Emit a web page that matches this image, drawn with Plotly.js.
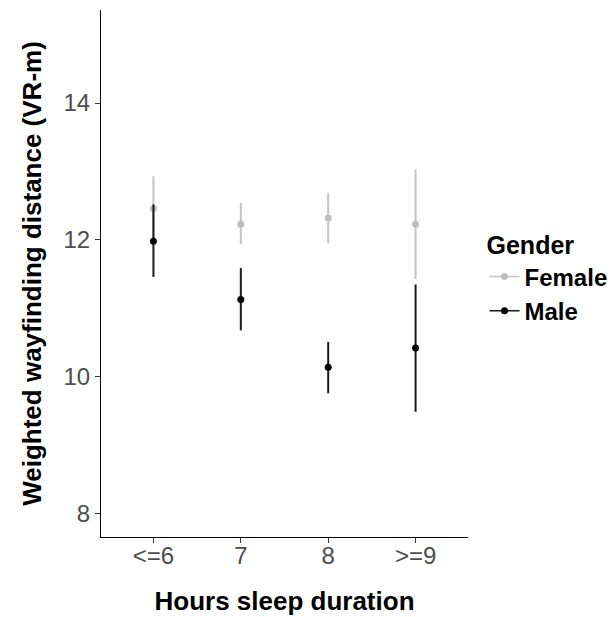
<!DOCTYPE html>
<html>
<head>
<meta charset="utf-8">
<script src="https://cdn.plot.ly/plotly-3.0.1.min.js"></script>
<style>html,body{margin:0;padding:0;background:#fff;}#chart{width:616px;height:617px;}</style>
</head>
<body>
<div id="chart"></div>
<script>
var categories = ["<=6", "7", "8", ">=9"];
var femaleMean = [12.46, 12.23, 12.32, 12.23];
var femaleLow  = [11.99, 11.94, 11.95, 11.43];
var femaleHigh = [12.93, 12.54, 12.69, 13.03];
var maleMean   = [11.98, 11.13, 10.14, 10.42];
var maleLow    = [11.46, 10.68, 9.76, 9.49];
var maleHigh   = [12.52, 11.59, 10.51, 11.35];
var yTicks = [8, 10, 12, 14];

function plus(h, m) { return h.map(function (v, i) { return v - m[i]; }); }
function minus(l, m) { return m.map(function (v, i) { return v - l[i]; }); }

var font = "Liberation Sans, Arial, Helvetica, sans-serif";
var femaleColor = "#bebebe", maleColor = "#000000";

var traces = [
  {
    name: "Female", type: "scatter", mode: "markers", showlegend: false,
    x: categories, y: femaleMean,
    marker: {color: femaleColor, size: 7},
    error_y: {type: "data", symmetric: false, array: plus(femaleHigh, femaleMean),
              arrayminus: minus(femaleLow, femaleMean), color: "#c4c4c4", thickness: 2, width: 0}
  },
  {
    name: "Male", type: "scatter", mode: "markers", showlegend: false,
    x: categories, y: maleMean,
    marker: {color: maleColor, size: 7},
    error_y: {type: "data", symmetric: false, array: plus(maleHigh, maleMean),
              arrayminus: minus(maleLow, maleMean), color: "#1a1a1a", thickness: 2, width: 0}
  },
  {
    name: "<b>Female</b>", type: "scatter", mode: "lines+markers",
    x: [null], y: [null], marker: {color: femaleColor, size: 7},
    line: {color: "#c4c4c4", width: 1.5}
  },
  {
    name: "<b>Male</b>", type: "scatter", mode: "lines+markers",
    x: [null], y: [null], marker: {color: maleColor, size: 7},
    line: {color: "#1a1a1a", width: 1.5}
  }
];

var layout = {
  width: 616, height: 617,
  margin: {l: 101, r: 148, t: 10, b: 80, autoexpand: false},
  paper_bgcolor: "#ffffff", plot_bgcolor: "#ffffff",
  font: {family: font, color: "#000"},
  showlegend: true,
  legend: {
    x: 1.045, y: 0.598, xanchor: "left", yanchor: "top",
    title: {text: "<b>Gender</b>", font: {size: 25, color: "#000"}},
    font: {size: 24, color: "#000"},
    tracegroupgap: 0, itemwidth: 30
  },
  xaxis: {
    type: "category", categoryarray: categories, range: [-0.6, 3.6],
    showline: true, linecolor: "#000", linewidth: 1, mirror: false,
    showgrid: false, zeroline: false,
    ticks: "outside", ticklen: 5, tickcolor: "#333", tickwidth: 1,
    ticklabelstandoff: -8,
    tickfont: {size: 24, color: "#4d4d4d"},
    title: {text: "<b>Hours sleep duration</b>", font: {size: 26, color: "#000"}, standoff: 24}
  },
  yaxis: {
    range: [7.66, 15.36],
    tickvals: yTicks, ticktext: yTicks.map(String),
    showline: true, linecolor: "#000", linewidth: 1,
    showgrid: false, zeroline: false,
    ticks: "outside", ticklen: 5, tickcolor: "#333", tickwidth: 1,
    tickfont: {size: 24, color: "#4d4d4d"},
    title: {text: "<b>Weighted wayfinding distance (VR-m)</b>", font: {size: 26, color: "#000"}, standoff: 14}
  }
};

Plotly.newPlot("chart", traces, layout, {displayModeBar: false, staticPlot: true});
</script>
</body>
</html>
